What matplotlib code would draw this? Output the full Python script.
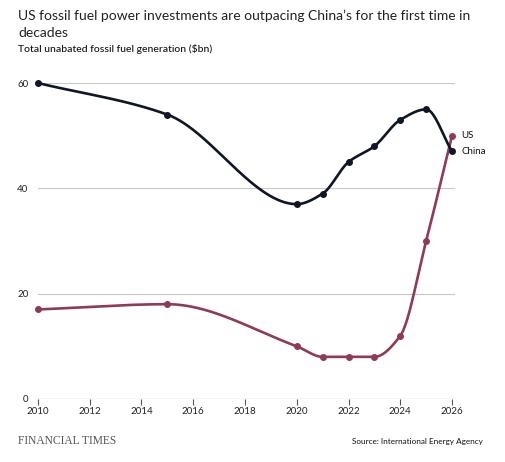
import numpy as np
import matplotlib
matplotlib.use('Agg')
import matplotlib.pyplot as plt

# Data
years = [2010, 2015, 2020, 2021, 2022, 2023, 2024, 2025, 2026]
black_series = [60, 54, 37, 39, 45, 48, 53, 55, 47]   # labelled "China"
red_series = [17, 18, 10, 8, 8, 8, 12, 30, 50]        # labelled "US"
y_ticks = [0, 20, 40, 60]
x_ticks = list(range(2010, 2027, 2))

BLACK = '#0f1626'
RED = '#8f3a5a'
GRID = '#c8c8c8'


def monotone_curve(x, y, n=400):
    """Monotone cubic (Fritsch-Carlson) curve through the points, for drawing"""
    x = np.asarray(x, float)
    y = np.asarray(y, float)
    h = np.diff(x)
    d = np.diff(y) / h
    m = np.zeros_like(y)
    for i in range(1, len(x) - 1):
        if d[i - 1] * d[i] > 0:
            w1 = 2 * h[i] + h[i - 1]
            w2 = h[i] + 2 * h[i - 1]
            m[i] = (w1 + w2) / (w1 / d[i - 1] + w2 / d[i])
    m[0] = d[0]
    m[-1] = d[-1]
    xs = np.linspace(x[0], x[-1], n)
    idx = np.clip(np.searchsorted(x, xs) - 1, 0, len(x) - 2)
    t = (xs - x[idx]) / h[idx]
    h00 = 2 * t**3 - 3 * t**2 + 1
    h10 = t**3 - 2 * t**2 + t
    h01 = -2 * t**3 + 3 * t**2
    h11 = t**3 - t**2
    ys = h00 * y[idx] + h10 * h[idx] * m[idx] + h01 * y[idx + 1] + h11 * h[idx] * m[idx + 1]
    return xs, ys


fig = plt.figure(figsize=(5.05, 4.62), dpi=100)
ax = fig.add_axes([0.0752, 0.1364, 0.825, 0.6839])

for vals, col in [(red_series, RED), (black_series, BLACK)]:
    xs, ys = monotone_curve(years, vals)
    ax.plot(xs, ys, color=col, linewidth=1.9, solid_capstyle='round', clip_on=False, zorder=3)
    ax.plot(years, vals, 'o', color=col, markersize=4, clip_on=False, zorder=4)

ax.set_xlim(2010, 2026.1)
ax.set_ylim(0, 60)

for v in y_ticks[1:]:
    ax.axhline(v, color=GRID, linewidth=0.8, zorder=1)
ax.axhline(0, color='#555555', linewidth=0.8, zorder=2)

for s in ax.spines.values():
    s.set_visible(False)

ax.set_xticks(x_ticks)
ax.set_xticklabels([str(t) for t in x_ticks], fontsize=7, family='Lato', color='#222222')
ax.tick_params(axis='x', length=4, width=0.8, color='#555555', pad=2)
ax.set_yticks(y_ticks)
ax.set_yticklabels([str(t) for t in y_ticks], fontsize=7, family='Lato', color='#222222')
ax.tick_params(axis='y', length=0, pad=7)

# end labels
ax.text(2026.35, red_series[-1], 'US', fontsize=7, family='Lato', color='#111111', va='center')
ax.text(2026.35, black_series[-1], 'China', fontsize=7, family='Lato', color='#111111', va='center')

# titles
fig.text(0.036, 0.98, "US fossil fuel power investments are outpacing China\u2019s for the first time in\ndecades",
         fontsize=10, family='Lato', color='#222222', va='top', linespacing=1.55)
fig.text(0.036, 0.895, 'Total unabated fossil fuel generation ($bn)',
         fontsize=7.5, family='Lato', fontweight='medium', color='#111111', va='center')

# footer
fig.text(0.036, 0.045, 'FINANCIAL TIMES', fontsize=8.3, family='Liberation Serif',
         color='#555555', va='center')
fig.text(0.957, 0.045, 'Source: International Energy Agency', fontsize=5.9, family='Lato',
         color='#111111', va='center', ha='right')

fig.savefig('out.png', dpi=100, facecolor='white')
